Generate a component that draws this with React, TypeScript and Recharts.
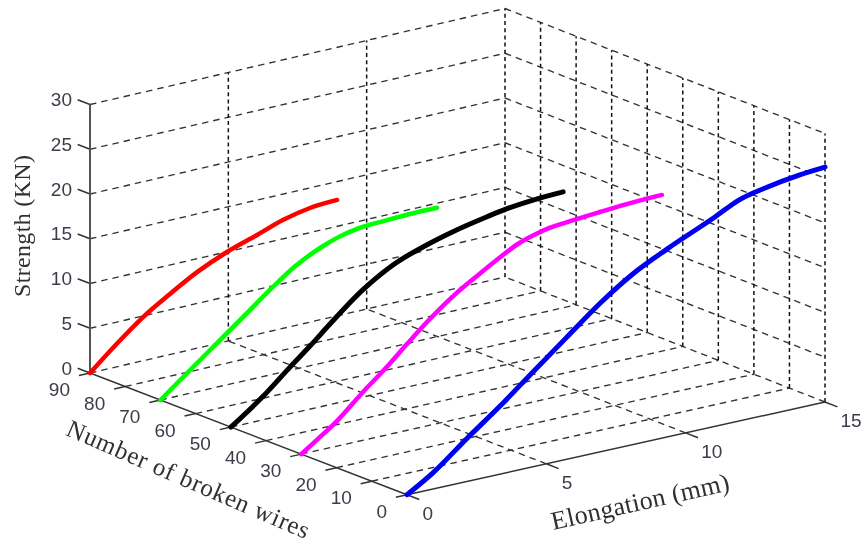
import React from "react";
import { ComposedChart, Line, Scatter, XAxis, YAxis } from "recharts";

const wireTicks = [0, 10, 20, 30, 40, 50, 60, 70, 80, 90];
const elongationTicks = [0, 5, 10, 15];
const strengthTicks = [0, 5, 10, 15, 20, 25, 30];

const redWires = 90;
const redElongation = [0, 0.97, 1.92, 2.89, 3.87, 4.95, 6.04, 6.97, 7.95, 8.93];
const redStrength = [0, 2.58, 4.88, 6.76, 8.5, 9.98, 11.1, 12.1, 12.75, 12.95];

const greenWires = 70;
const greenElongation = [0, 1.07, 2.15, 3.12, 3.95, 4.86, 5.76, 6.37, 7.09, 8.18, 9.12, 9.98];
const greenStrength = [0, 2.6, 5.17, 7.5, 9.5, 11.5, 12.9, 13.6, 14.1, 14.3, 14.4, 14.4];

const blackWires = 50;
const blackElongation = [0, 1.15, 2.13, 2.85, 3.57, 4.76, 5.84, 7.07, 8.0, 9.23, 9.95, 10.89, 11.97];
const blackStrength = [0, 2.6, 5.2, 7.05, 9.0, 12.0, 14.0, 15.4, 16.2, 17.0, 17.4, 17.7, 17.85];

const magentaWires = 30;
const magentaElongation = [0, 0.56, 1.28, 2.22, 3.08, 3.8, 4.52, 5.46, 6.43, 7.15, 7.76, 8.33, 8.95, 9.56, 10.74, 11.93, 12.97];
const magentaStrength = [0, 1.2, 2.8, 5.4, 7.6, 9.64, 11.6, 13.85, 15.7, 17.0, 18.0, 18.6, 19.05, 19.25, 19.55, 19.8, 19.9];

const blueWires = 0;
const blueElongation = [0, 0.93, 2.15, 3.34, 4.52, 5.74, 6.93, 8.18, 9.33, 11.05, 11.91, 12.85, 14.07, 15];
const blueStrength = [0, 1.8, 4.8, 7.6, 10.6, 13.65, 16.6, 19.2, 21.0, 23.4, 24.7, 25.4, 26.0, 26.25];

const WIRE_MAX = 90;
const ELONG_MAX = 15;
const Z_SCALE = 8.95;

// Projection of the 3D axes box onto the page.
function project(w: number, e: number, z: number) {
  const u = w / WIRE_MAX;
  const v = e / ELONG_MAX;
  const bil = (a: number, b: number, c: number, d: number) =>
    (1 - u) * (1 - v) * a + u * (1 - v) * b + (1 - u) * v * c + u * v * d;
  return { x: bil(407, 90, 825, 505), y: bil(494.7, 373, 402, 277) - z * Z_SCALE };
}

type P3 = [number, number, number];
const seg = (a: P3, b: P3) => [project(...a), project(...b)];

const curve = (w: number, es: number[], zs: number[]) => es.map((e, i) => project(w, e, zs[i]));

const seriesList = [
  { key: "red", color: "#ff0000", width: 4.5, data: curve(redWires, redElongation, redStrength) },
  { key: "green", color: "#00ff00", width: 4.5, data: curve(greenWires, greenElongation, greenStrength) },
  { key: "black", color: "#000000", width: 5, data: curve(blackWires, blackElongation, blackStrength) },
  { key: "magenta", color: "#ff00ff", width: 4.5, data: curve(magentaWires, magentaElongation, magentaStrength) },
  { key: "blue", color: "#0000f0", width: 5, data: curve(blueWires, blueElongation, blueStrength) },
];

const slantGrid: { x: number; y: number }[][] = [];
const upGrid: { x: number; y: number }[][] = [];
wireTicks.forEach((w) => {
  if (w > 0) slantGrid.push(seg([w, 0, 0], [w, ELONG_MAX, 0]));
  if (w < WIRE_MAX) upGrid.push(seg([w, ELONG_MAX, 0], [w, ELONG_MAX, 30]));
});
elongationTicks.forEach((e) => {
  if (e > 0) {
    slantGrid.push(seg([0, e, 0], [WIRE_MAX, e, 0]));
    upGrid.push(seg([WIRE_MAX, e, 0], [WIRE_MAX, e, 30]));
  }
});
strengthTicks.forEach((z) => {
  if (z > 0) {
    slantGrid.push(seg([WIRE_MAX, 0, z], [WIRE_MAX, ELONG_MAX, z]));
    slantGrid.push(seg([WIRE_MAX, ELONG_MAX, z], [0, ELONG_MAX, z]));
  }
});

const axisLines = [
  seg([0, 0, 0], [WIRE_MAX, 0, 0]),
  seg([0, 0, 0], [0, ELONG_MAX, 0]),
  ...wireTicks.map((w) => seg([w, 0, 0], [w, -0.4, 0])),
  ...elongationTicks.map((e) => seg([0, e, 0], [-3.5, e, 0])),
  ...strengthTicks.map((z) => seg([WIRE_MAX, 0, z], [WIRE_MAX + 3.5, 0, z])),
];

const strengthLabels = strengthTicks.map((z) => ({ ...project(WIRE_MAX, 0, z), text: String(z) }));
const wireLabels = wireTicks.map((w) => ({ ...project(w, 0, 0), text: String(w) }));
const elongationLabels = elongationTicks.map((e) => ({ ...project(0, e, 0), text: String(e) }));

const tickFont = { fontFamily: "Liberation Sans", fontSize: 19, fill: "#3a3d4a" };
const titleFont = { fontFamily: "Liberation Serif", fill: "#303030" };

const labelShape = (dx: number, dy: number, anchor: "start" | "end") => (p: any) =>
  (
    <text x={p.cx + dx} y={p.cy + dy} textAnchor={anchor} dominantBaseline="central" {...tickFont}>
      {p.payload.text}
    </text>
  );

export default function App() {
  return (
    <div style={{ position: "absolute", left: 0, top: 0, width: 864, height: 544, background: "#fff", filter: "blur(0.6px)" }}>
      <ComposedChart width={864} height={544} margin={{ top: 0, right: 0, bottom: 0, left: 0 }}>
        <XAxis type="number" dataKey="x" domain={[0, 864]} hide allowDataOverflow />
        <YAxis type="number" dataKey="y" domain={[0, 544]} reversed hide allowDataOverflow />
        {slantGrid.map((d, i) => (
          <Line key={"s" + i} data={d} dataKey="y" type="linear" dot={false} stroke="#333333" strokeWidth={1.35} strokeDasharray="6.5 5" isAnimationActive={false} />
        ))}
        {upGrid.map((d, i) => (
          <Line key={"u" + i} data={d} dataKey="y" type="linear" dot={false} stroke="#111111" strokeWidth={1.5} strokeDasharray="4 3.2" isAnimationActive={false} />
        ))}
        {axisLines.map((d, i) => (
          <Line key={"a" + i} data={d} dataKey="y" type="linear" dot={false} stroke="#333333" strokeWidth={1.5} isAnimationActive={false} />
        ))}
        <Line data={seg([WIRE_MAX, 0, 0], [WIRE_MAX, 0, 30])} dataKey="y" type="linear" dot={false} stroke="#555555" strokeWidth={2} isAnimationActive={false} />
        {seriesList.map((s) => (
          <Line key={s.key} data={s.data} dataKey="y" type="monotone" dot={false} stroke={s.color} strokeWidth={s.width} strokeLinecap="round" strokeLinejoin="round" isAnimationActive={false} />
        ))}
        <Scatter data={strengthLabels} shape={labelShape(-18, -5, "end")} isAnimationActive={false} />
        <Scatter data={wireLabels} shape={labelShape(-20, 16.5, "end")} isAnimationActive={false} />
        <Scatter data={elongationLabels} shape={labelShape(15.5, 18.5, "start")} isAnimationActive={false} />
        <Scatter data={[{ x: 30, y: 226 }]} shape={(p: any) => (
          <text x={p.cx} y={p.cy} textAnchor="middle" transform={`rotate(-90 ${p.cx} ${p.cy})`} {...titleFont} fontSize={24} textLength={142}>Strength (KN)</text>
        )} isAnimationActive={false} />
        <Scatter data={[{ x: 185, y: 487 }]} shape={(p: any) => (
          <text x={p.cx} y={p.cy} textAnchor="middle" transform={`rotate(23.5 ${p.cx} ${p.cy})`} {...titleFont} fontSize={25} textLength={262}>Number of broken wires</text>
        )} isAnimationActive={false} />
        <Scatter data={[{ x: 642, y: 510 }]} shape={(p: any) => (
          <text x={p.cx} y={p.cy} textAnchor="middle" transform={`rotate(-12.7 ${p.cx} ${p.cy})`} {...titleFont} fontSize={26} textLength={182}>Elongation (mm)</text>
        )} isAnimationActive={false} />
      </ComposedChart>
    </div>
  );
}
